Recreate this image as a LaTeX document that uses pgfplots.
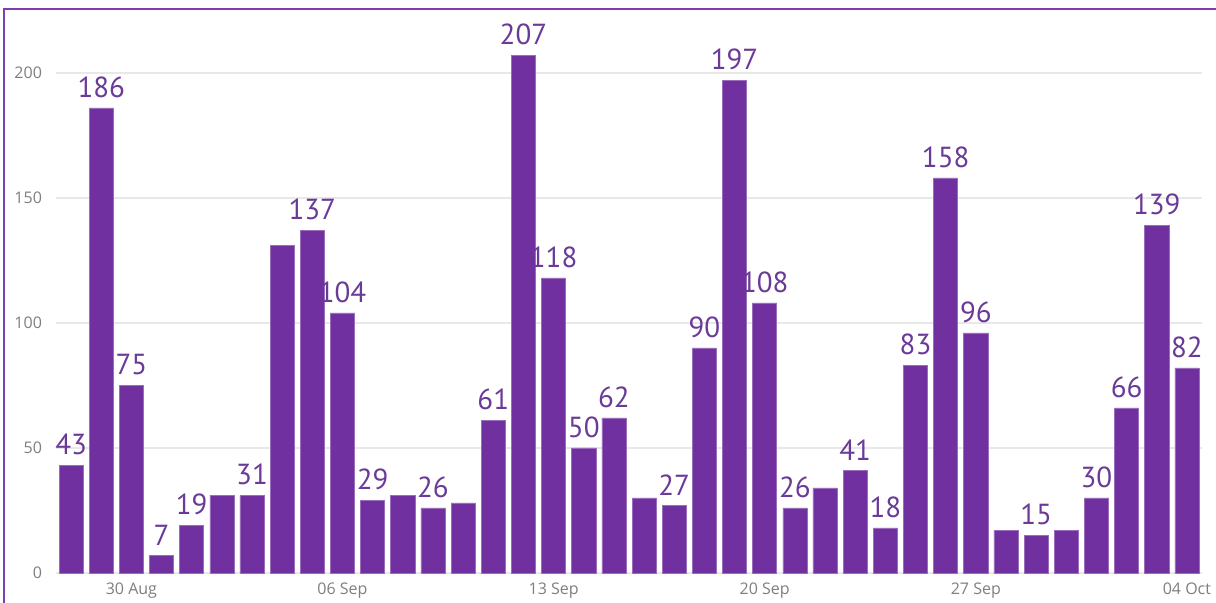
\documentclass[border=0pt]{standalone}
\usepackage{pgfplots}
\pgfplotsset{compat=1.18}
\usepackage{fontspec}
\newfontfamily\labfont{PT Sans}
\newfontfamily\ticfont{Open Sans}
\definecolor{barcol}{HTML}{7030A0}
\definecolor{labcol}{HTML}{6A3A98}
\definecolor{framecol}{HTML}{7E3DB2}
\definecolor{tickgray}{HTML}{7F7F7F}
\definecolor{gridcol}{HTML}{E8E8E8}
\begin{document}
\begin{tikzpicture}
\fill[white] (-28pt,-15pt) rectangle (580pt,286.5pt);
\useasboundingbox (-28pt,-15pt) rectangle (580pt,286.5pt);
\begin{axis}[
  at={(0,0)}, anchor=south west, scale only axis,
  width=573pt, height=268.75pt,
  xmin=-0.5, xmax=37.5, ymin=0, ymax=215,
  ybar, bar width=0.8, bar shift=0pt,
  axis line style={draw=none},
  major tick length=0pt,
  xtick={2,9,16,23,30,37},
  xticklabels={30 Aug,06 Sep,13 Sep,20 Sep,27 Sep,04 Oct},
  ytick={0,50,100,150,200},
  ymajorgrids, grid style={gridcol, line width=0.8pt},
  tick label style={font=\ticfont\fontsize{8}{9}\selectfont, text=tickgray},
  yticklabel style={xshift=-3.5pt},
  xticklabel style={yshift=-1.5pt},
  /pgf/number format/assume math mode=true,
  clip=false,
]
\addplot[fill=barcol, draw=barcol!70!white, line width=0.3pt] coordinates {
(0,43)(1,186)(2,75)(3,7)(4,19)(5,31)(6,31)(7,131)(8,137)(9,104)
(10,29)(11,31)(12,26)(13,28)(14,61)(15,207)(16,118)(17,50)(18,62)(19,30)
(20,27)(21,90)(22,197)(23,108)(24,26)(25,34)(26,41)(27,18)(28,83)(29,158)
(30,96)(31,17)(32,15)(33,17)(34,30)(35,66)(36,139)(37,82)
};
\addplot[draw=none, fill=none, nodes near coords,
  every node near coord/.style={anchor=south, inner sep=0pt, yshift=5pt,
    font=\labfont\fontsize{14.5}{15}\selectfont, text=labcol}] coordinates {
(0,43)(1,186)(2,75)(3,7)(4,19)(6,31)(8,137)(9,104)
(10,29)(12,26)(14,61)(15,207)(16,118)(17,50)(18,62)
(20,27)(21,90)(22,197)(23,108)(24,26)(26,41)(27,18)(28,83)(29,158)
(30,96)(32,15)(34,30)(35,66)(36,139)(37,82)
};
\end{axis}
\draw[framecol, line width=1.1pt] (-26pt,-15pt) -- (-26pt,282pt) -- (580pt,282pt);
\end{tikzpicture}
\end{document}
